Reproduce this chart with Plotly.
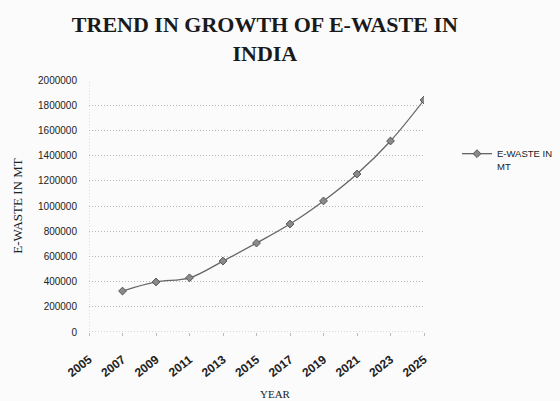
import plotly.graph_objects as go

years = [2007, 2009, 2011, 2013, 2015, 2017, 2019, 2021, 2023, 2025]
ewaste_mt = [325000, 397000, 430000, 563000, 706000, 857000, 1040000, 1254000, 1516000, 1841000]
x_ticks = [2005, 2007, 2009, 2011, 2013, 2015, 2017, 2019, 2021, 2023, 2025]
y_ticks = [0, 200000, 400000, 600000, 800000, 1000000, 1200000, 1400000, 1600000, 1800000, 2000000]

fig = go.Figure()
fig.add_trace(go.Scatter(
    x=years, y=ewaste_mt, mode="lines+markers", name="E-WASTE IN<br>MT",
    line=dict(color="#666666", width=1.3, shape="spline"),
    marker=dict(symbol="diamond", size=6, color="#8a8a8a", line=dict(color="#555555", width=1)),
))

fig.update_layout(
    width=560, height=401,
    margin=dict(l=89, r=136, t=80, b=69, autoexpand=False),
    paper_bgcolor="#fbfbfb", plot_bgcolor="#fbfbfb",
    title=dict(text="<b>TREND IN GROWTH OF E-WASTE IN<br>INDIA</b>",
               x=0.473, xanchor="center", y=0.92, yanchor="top",
               font=dict(family="Liberation Serif", size=22, color="#1a1a1a")),
    showlegend=True,
    legend=dict(xref="container", yref="container", x=457 / 560, y=1 - 141 / 401,
                xanchor="left", yanchor="top", valign="top",
                font=dict(family="Liberation Sans", size=9.5, color="#222"),
                bgcolor="rgba(0,0,0,0)"),
    xaxis=dict(range=[2005, 2025], tickvals=x_ticks, ticktext=[str(t) for t in x_ticks],
               tickangle=-38, showgrid=False, zeroline=False,
               ticks="outside", ticklen=3, tickcolor="#bbb",
               ticklabelstandoff=12,
               showline=False,
               tickfont=dict(family="Liberation Sans", size=12, color="#222", weight="bold")),
    yaxis=dict(range=[0, 2000000], tickvals=y_ticks, ticktext=[str(t) for t in y_ticks],
               showgrid=True, gridcolor="#b8b8b8", griddash="1px,2px", gridwidth=1,
               zeroline=False, showline=False, ticklabelstandoff=11,
               tickfont=dict(family="Liberation Sans", size=10, color="#222"),
               title=dict(text="E-WASTE IN MT", font=dict(family="Liberation Serif", size=13, color="#222"), standoff=12)),
    annotations=[dict(text="YEAR", xref="paper", yref="paper", x=(275 - 89) / 335, y=-0.245,
                      xanchor="center", yanchor="middle", showarrow=False,
                      font=dict(family="Liberation Serif", size=11, color="#222"))],
)
# dotted axis lines
fig.add_shape(type="line", xref="x", yref="y", x0=2005, x1=2025, y0=0, y1=0,
              line=dict(color="#b0b0b0", width=1, dash="1px,2px"))
fig.add_shape(type="line", xref="x", yref="y", x0=2005, x1=2005, y0=0, y1=2000000,
              line=dict(color="#c0c0c0", width=1, dash="1px,2px"))

fig.write_html("out.html")
